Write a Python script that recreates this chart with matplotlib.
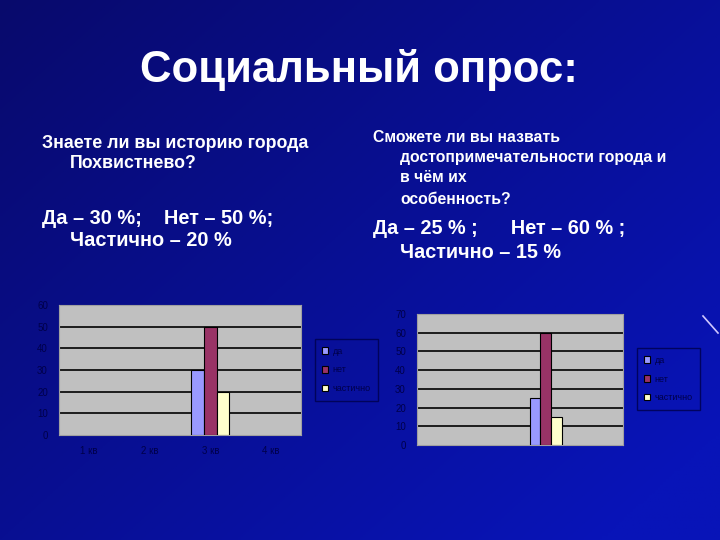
import numpy as np
import matplotlib
matplotlib.use('Agg')
import matplotlib.pyplot as plt

plt.rcParams['font.family'] = ['Liberation Sans', 'DejaVu Sans']

# data
QUARTERS = ['1 кв', '2 кв', '3 кв', '4 кв']
SERIES = ['да', 'нет', 'частично']
HISTORY = {
    'да': [np.nan, np.nan, 30, np.nan],
    'нет': [np.nan, np.nan, 50, np.nan],
    'частично': [np.nan, np.nan, 20, np.nan],
}
SIGHTS = {
    'да': [np.nan, np.nan, 25, np.nan],
    'нет': [np.nan, np.nan, 60, np.nan],
    'частично': [np.nan, np.nan, 15, np.nan],
}
COLORS = ['#9999ff', '#993366', '#ffffcc']
NAVY = '#00004a'

W, H = 720, 540
fig = plt.figure(figsize=(W / 100, H / 100), dpi=100)

# background gradient
bg = fig.add_axes([0, 0, 1, 1])
yy, xx = np.mgrid[0:1:200j, 0:1:260j]
t = np.clip(0.6 * xx + 0.5 * yy, 0, 1)
c0 = np.array([0x08, 0x0a, 0x6c]) / 255
c1 = np.array([0x08, 0x14, 0xb8]) / 255
img = c0 + (c1 - c0) * t[..., None]
bg.imshow(img, extent=[0, W, H, 0], aspect='auto')
bg.plot([703, 718], [316, 333], color='#d0c8ff', lw=1.2)
bg.set_xlim(0, W)
bg.set_ylim(H, 0)
bg.axis('off')


def px(x, y):
    return x / W, 1 - y / H


def put(x, y, s, size, **kw):
    fx, fy = px(x, y)
    fig.text(fx, fy, s, fontsize=size, color='white', va='center', ha='left', **kw)


fig.text(px(359, 0)[0], px(0, 70)[1], 'Социальный опрос:', fontsize=31.5, color='white',
         weight='bold', ha='center', va='center')

put(42, 143, 'Знаете ли вы историю города', 12.8, weight='bold')
put(70, 163, 'Похвистнево?', 12.8, weight='bold')
put(42, 218, 'Да – 30 %;    Нет – 50 %;', 14.4, weight='bold')
put(70, 240, 'Частично – 20 %', 14.4, weight='bold')

put(373, 138, 'Сможете ли вы назвать', 11.3, weight='bold')
put(400, 158, 'достопримечательности города и', 11.3, weight='bold')
put(400, 178, 'в чём их', 11.3, weight='bold')
put(400, 200, 'особенность?', 11.3, weight='bold')
put(373, 228, 'Да – 25 % ;      Нет – 60 % ;', 14.3, weight='bold')
put(400, 252, 'Частично – 15 %', 14.3, weight='bold')


def chart(rect, data, ymax, legend_rect, show_x):
    ax = fig.add_axes(rect)
    ax.set_facecolor('#c0c0c0')
    x = np.arange(len(QUARTERS))
    w = 0.21
    handles = []
    for i, name in enumerate(SERIES):
        b = ax.bar(x + (i - 1) * w, data[name], w, color=COLORS[i],
                   edgecolor='black', linewidth=0.8, zorder=3, label=name)
        handles.append(b)
    ax.set_xlim(-0.5, len(QUARTERS) - 0.5)
    ax.set_ylim(0, ymax)
    ax.set_yticks(range(0, ymax + 1, 10))
    for v in range(10, ymax, 10):
        ax.axhline(v, color='black', lw=1.2, zorder=2)
    ax.set_xticks(x)
    ax.set_xticklabels(QUARTERS if show_x else [''] * len(QUARTERS))
    ax.tick_params(colors=NAVY, labelsize=7, length=0, pad=8)
    for s in ax.spines.values():
        s.set_color('#a0a0a0')
        s.set_linewidth(0.8)
    leg = ax.legend(handles=handles, labels=SERIES, loc='center left',
                    bbox_to_anchor=legend_rect, bbox_transform=fig.transFigure,
                    frameon=True, fontsize=6.5, handlelength=0.7, handleheight=0.7,
                    labelspacing=1.1, borderpad=0.8, handletextpad=0.5)
    leg.get_frame().set_facecolor('none')
    leg.get_frame().set_edgecolor(NAVY)
    leg.get_frame().set_boxstyle('square', pad=0)
    for t_ in leg.get_texts():
        t_.set_color(NAVY)
    return ax


chart([59 / W, 1 - 435 / H, 242 / W, 130 / H], HISTORY, 60,
      (310 / W, 1 - 370 / H), True)
chart([417 / W, 1 - 445 / H, 206 / W, 131 / H], SIGHTS, 70,
      (632 / W, 1 - 379 / H), False)

fig.savefig('out.png', dpi=100)
